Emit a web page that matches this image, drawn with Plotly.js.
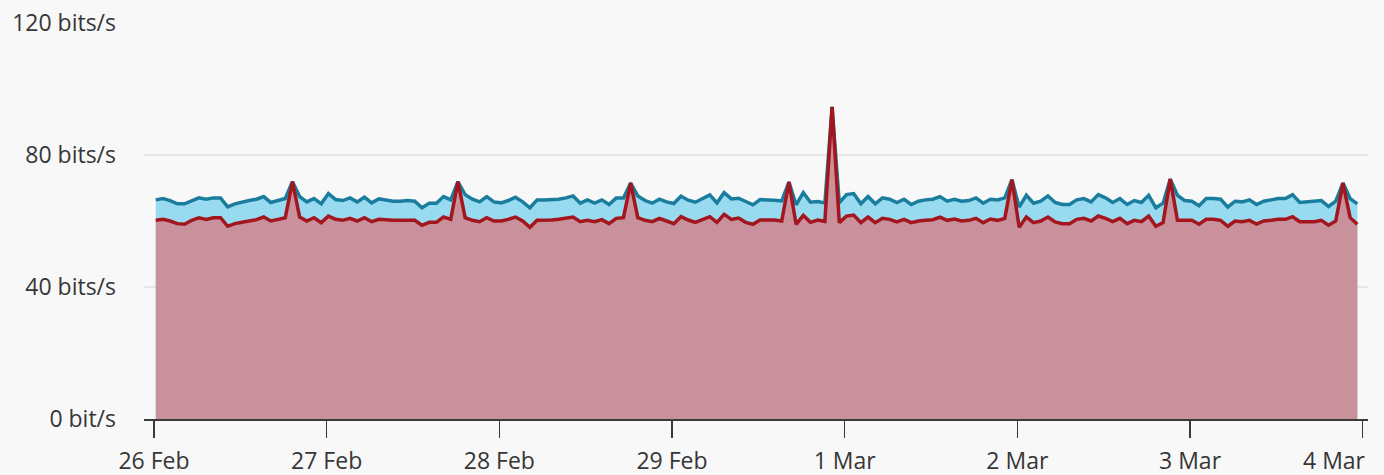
<!DOCTYPE html>
<html>
<head>
<meta charset="utf-8">
<script src="https://cdn.plot.ly/plotly-3.0.1.min.js"></script>
<style>
  html, body { margin: 0; padding: 0; background: #f8f8f8; }
  #chart { width: 1384px; height: 475px; }
</style>
</head>
<body>
<div id="chart"></div>
<script>
// Hourly samples, 26 Feb 2024 00:15 .. 3 Mar 2024 23:15
const startTime = '2024-02-26T00:15:00';
const sampleCount = 168;

// upper series (blue), bits/s
const blueValues = [
  66.4, 66.8, 66.2, 65.2, 65.2, 66.2, 67.0, 66.6, 67.0, 67.0, 64.3, 65.2, 65.8, 66.2, 66.6, 67.4, 65.6, 66.2, 66.8, 71.9, 67.4, 65.8, 66.8, 65.2,
  68.3, 66.5, 66.2, 67.0, 65.8, 67.2, 65.5, 66.7, 66.4, 66.0, 66.0, 66.2, 66.0, 64.0, 65.4, 65.4, 67.4, 66.4, 71.9, 68.0, 66.6, 65.8, 67.4, 65.8,
  65.5, 66.2, 67.2, 65.8, 64.0, 66.4, 66.4, 66.4, 66.6, 67.0, 67.6, 65.4, 66.4, 65.4, 66.4, 65.0, 67.0, 67.0, 71.5, 67.6, 66.2, 65.4, 66.6, 65.8,
  65.3, 67.5, 66.3, 65.7, 66.7, 67.9, 65.5, 68.6, 66.7, 66.9, 65.9, 64.9, 66.5, 66.5, 66.3, 66.1, 71.8, 64.9, 68.6, 65.7, 65.9, 65.5, 94.6, 65.5,
  68.0, 68.3, 65.2, 67.4, 65.2, 67.0, 66.6, 65.6, 66.6, 65.0, 66.0, 66.4, 66.6, 67.4, 66.0, 66.6, 66.0, 66.2, 67.0, 65.4, 66.6, 66.4, 67.0, 72.5,
  64.2, 67.8, 65.4, 66.0, 67.6, 65.6, 65.0, 65.0, 66.4, 66.8, 65.8, 68.0, 67.0, 65.6, 66.8, 65.0, 66.2, 65.6, 67.8, 64.0, 65.4, 72.7, 67.8, 66.2,
  66.0, 64.6, 66.8, 66.8, 66.6, 64.2, 66.0, 65.8, 66.4, 65.0, 66.0, 66.4, 66.8, 66.8, 68.0, 65.6, 65.8, 65.8, 66.2, 64.4, 66.0, 71.5, 66.8, 65.2
];

// lower series (red), bits/s
const redValues = [
  60.2, 60.5, 60.0, 59.2, 59.0, 60.2, 61.0, 60.5, 61.0, 61.0, 58.4, 59.2, 59.6, 60.0, 60.4, 61.2, 60.0, 60.5, 61.0, 71.9, 61.2, 60.0, 61.0, 59.5,
  61.5, 60.5, 60.2, 60.8, 60.0, 61.0, 59.8, 60.5, 60.3, 60.2, 60.2, 60.3, 60.2, 58.7, 59.6, 59.6, 61.2, 60.5, 71.9, 61.0, 60.2, 59.8, 61.0, 60.0,
  60.0, 60.5, 61.2, 60.0, 58.1, 60.2, 60.2, 60.3, 60.5, 60.8, 61.2, 59.8, 60.2, 59.8, 60.4, 59.2, 60.8, 61.0, 71.5, 61.0, 60.2, 59.8, 60.8, 60.0,
  59.2, 61.3, 60.3, 59.6, 60.5, 61.3, 59.6, 62.0, 60.5, 60.9, 59.6, 59.0, 60.3, 60.3, 60.3, 60.0, 71.8, 59.0, 61.7, 59.6, 60.3, 59.9, 94.6, 59.5,
  61.5, 61.8, 59.5, 61.2, 59.5, 60.8, 60.5, 59.7, 60.5, 59.5, 60.0, 60.2, 60.4, 61.2, 60.2, 60.6, 60.0, 60.2, 60.8, 59.5, 60.6, 60.2, 60.8, 72.5,
  58.1, 61.2, 59.5, 60.0, 61.2, 59.7, 59.2, 59.2, 60.5, 60.8, 60.0, 61.5, 60.8, 59.8, 60.8, 59.2, 60.2, 59.8, 61.5, 58.4, 59.5, 72.7, 60.2, 60.2,
  60.2, 59.0, 60.5, 60.5, 60.2, 58.4, 60.0, 59.8, 60.2, 59.1, 60.0, 60.2, 60.5, 60.5, 61.3, 59.8, 59.8, 59.8, 60.2, 58.7, 60.0, 71.5, 61.0, 59.0
];

const xTickVals = ['2024-02-26', '2024-02-27', '2024-02-28', '2024-02-29', '2024-03-01', '2024-03-02', '2024-03-03', '2024-03-04'];
const xTickText = ['26 Feb', '27 Feb', '28 Feb', '29 Feb', '1 Mar', '2 Mar', '3 Mar', ''];
const lastTickLabel = '4 Mar';
const yTickVals = [0, 40, 80, 120];
const yTickText = ['0 bit/s', '40 bits/s', '80 bits/s', '120 bits/s'];

// build timestamps
const t0 = new Date(startTime + 'Z').getTime();
const times = [];
for (let i = 0; i < sampleCount; i++) {
  const d = new Date(t0 + i * 3600000);
  times.push(d.toISOString().slice(0, 19).replace('T', ' '));
}

const FONT = '"Open Sans", "Noto Sans", sans-serif';
const TXT = '#363636';

const traces = [
  {
    x: times, y: blueValues, type: 'scatter', mode: 'lines',
    line: { color: '#1b7d9e', width: 3.5, shape: 'linear' },
    fill: 'tozeroy', fillcolor: 'rgb(152,219,240)',
    hoverinfo: 'skip', showlegend: false
  },
  {
    x: times, y: redValues, type: 'scatter', mode: 'lines',
    line: { color: '#a3161d', width: 3.5, shape: 'linear' },
    fill: 'tozeroy', fillcolor: 'rgb(201,145,155)',
    hoverinfo: 'skip', showlegend: false
  }
];

const layout = {
  width: 1384, height: 475,
  paper_bgcolor: '#f8f8f8', plot_bgcolor: '#f8f8f8',
  margin: { l: 144, r: 16, t: 23, b: 56, pad: 0 },
  font: { family: FONT, size: 23, color: TXT },
  showlegend: false,
  xaxis: {
    type: 'date',
    range: ['2024-02-25 22:37', '2024-03-04 00:44'],
    tickmode: 'array', tickvals: xTickVals, ticktext: xTickText,
    ticks: 'outside', ticklen: 17, tickwidth: 1.5, tickcolor: '#3a3a3a',
    ticklabelstandoff: 4,
    showline: true, linecolor: '#3a3a3a', linewidth: 1.5,
    showgrid: false, zeroline: false,
    tickfont: { family: FONT, size: 23, color: TXT },
    fixedrange: true
  },
  yaxis: {
    range: [0, 120],
    tickmode: 'array', tickvals: yTickVals, ticktext: yTickText,
    ticks: '', showline: false, zeroline: false,
    showgrid: true, gridcolor: '#e6e6e6', gridwidth: 2,
    ticklabelstandoff: 27,
    tickfont: { family: FONT, size: 23, color: TXT },
    fixedrange: true
  },
  annotations: [
    {
      text: lastTickLabel, xref: 'paper', yref: 'paper', x: 1, y: 0,
      xanchor: 'right', yanchor: 'middle', yshift: -41, showarrow: false,
      font: { family: FONT, size: 23, color: TXT }
    }
  ]
};

Plotly.newPlot('chart', traces, layout, { displayModeBar: false, staticPlot: true });
</script>
</body>
</html>
